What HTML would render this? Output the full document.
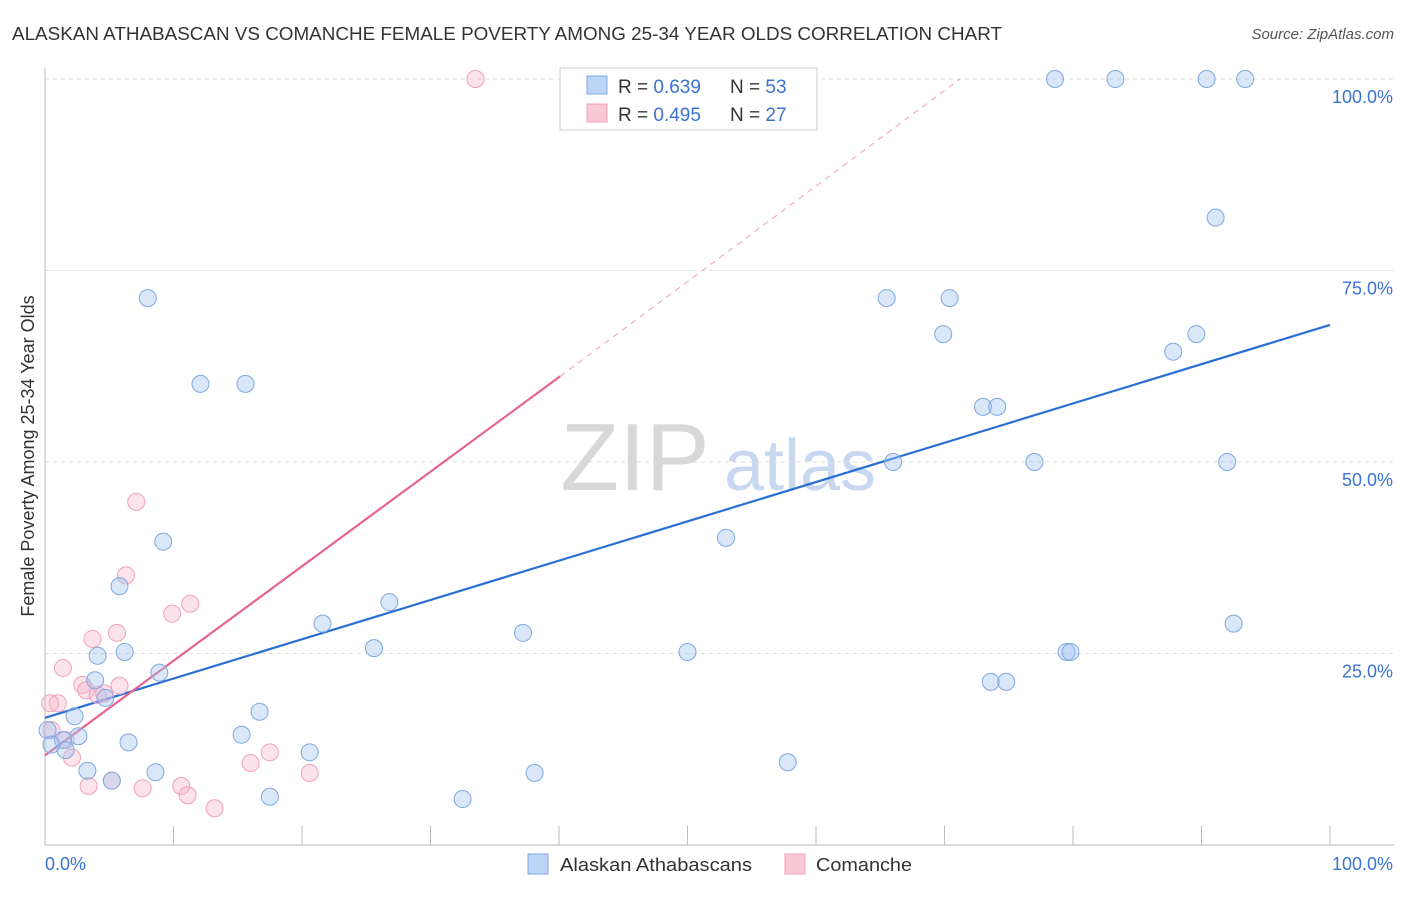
<!DOCTYPE html>
<html><head><meta charset="utf-8"><style>
body{margin:0;background:#fff;font-family:"Liberation Sans",sans-serif;}
svg text{font-family:"Liberation Sans",sans-serif;}
</style></head><body>
<svg id="chart" width="1406" height="892" xmlns="http://www.w3.org/2000/svg">
<text x="12" y="40" font-size="18" fill="#333" textLength="990" lengthAdjust="spacingAndGlyphs">ALASKAN ATHABASCAN VS COMANCHE FEMALE POVERTY AMONG 25-34 YEAR OLDS CORRELATION CHART</text>
<text x="1394" y="39" font-size="15" fill="#555" font-style="italic" text-anchor="end">Source: ZipAtlas.com</text>
<text x="0" y="0" transform="translate(34,456) rotate(-90)" font-size="18" fill="#333" text-anchor="middle">Female Poverty Among 25-34 Year Olds</text>
<g><text x="635" y="490" font-size="96" fill="#d8d8d8" font-family="Liberation Serif" text-anchor="middle">ZIP</text><text x="800" y="490" font-size="72" fill="#c8d8f0" text-anchor="middle">atlas</text></g>
<g id="grid"></g><g id="axes"></g><g id="trend"></g><g id="pts"></g>
<g>
<rect x="560" y="68" width="257" height="62" fill="#fff" stroke="#ccc"/>
<rect x="587" y="76" width="20" height="18" fill="#bcd4f5" stroke="#7fa8e0"/>
<text x="618" y="93" font-size="19" fill="#333">R = <tspan fill="#3b73d1">0.639</tspan></text>
<text x="730" y="93" font-size="19" fill="#333">N = <tspan fill="#3b73d1">53</tspan></text>
<rect x="587" y="104" width="20" height="18" fill="#f8c8d6" stroke="#f0a0bb"/>
<text x="618" y="121" font-size="19" fill="#333">R = <tspan fill="#3b73d1">0.495</tspan></text>
<text x="730" y="121" font-size="19" fill="#333">N = <tspan fill="#3b73d1">27</tspan></text>
</g>
<g>
<rect x="528" y="854" width="20" height="20" fill="#bcd4f5" stroke="#7fa8e0"/>
<text x="560" y="871" font-size="18" fill="#333" textLength="192" lengthAdjust="spacingAndGlyphs">Alaskan Athabascans</text>
<rect x="785" y="854" width="20" height="20" fill="#f8c8d6" stroke="#f0a0bb"/>
<text x="816" y="871" font-size="18" fill="#333" textLength="96" lengthAdjust="spacingAndGlyphs">Comanche</text>
</g>
</svg>
<script>
const blueX=[8.0,12.1,15.6,9.2,5.8,4.1,6.2,3.9,8.9,4.7,2.3,2.6,1.4,1.6,0.2,3.3,5.2,6.5,8.6,15.3,16.7,17.5,20.6,21.6,25.6,26.8,32.5,37.2,38.1,50.0,53.0,57.8,65.5,66.0,69.9,70.4,73.0,74.1,73.6,74.8,77.0,79.5,79.8,78.6,83.3,90.4,93.4,91.1,87.8,89.6,92.0,92.5,0.5];
const blueY=[71.4,60.2,60.2,39.6,33.8,24.7,25.2,21.5,22.5,19.2,16.8,14.2,13.7,12.4,15.0,9.7,8.4,13.4,9.5,14.4,17.4,6.3,12.1,28.9,25.7,31.7,6.0,27.7,9.4,25.2,40.1,10.8,71.4,50.0,66.7,71.4,57.2,57.2,21.3,21.3,50.0,25.2,25.2,100,100,100,100,81.9,64.4,66.7,50.0,28.9,13.1];
const pinkX=[33.5,7.1,6.3,11.3,9.9,5.6,3.7,1.4,0.4,1.0,2.9,3.2,5.8,4.1,4.6,1.6,2.1,0.5,3.4,5.2,7.6,10.6,11.1,13.2,16.0,17.5,20.6];
const pinkY=[100,44.8,35.2,31.5,30.2,27.7,26.9,23.1,18.5,18.5,20.9,20.2,20.8,19.6,19.8,13.7,11.4,15.0,7.7,8.4,7.4,7.7,6.5,4.8,10.7,12.1,9.4];
const yTicks=[25,50,75,100];
const yTickLabels=["25.0%","50.0%","75.0%","100.0%"];
const xTicks=[0,10,20,30,40,50,60,70,80,90,100];
const blueTrend=[[0,16.6],[100,67.9]];
const pinkTrend=[[0,11.7],[40.1,61.2]];
const pinkDash=[[40.1,61.2],[71.2,100]];
const NS="http://www.w3.org/2000/svg";
const sx=v=>45+v*12.85, sy=v=>845-v*7.66;
function mk(t,a,p){const e=document.createElementNS(NS,t);for(const k in a)e.setAttribute(k,a[k]);document.getElementById(p).appendChild(e);return e;}
yTicks.forEach((t,i)=>{
 const g=mk('line',{x1:45,x2:1394,y1:sy(t),y2:sy(t),stroke:'#ddd','stroke-dasharray':'4,4'},'grid');
 
 
 const l=mk('text',{x:1393,y:sy(t)+24,'font-size':18,fill:'#3b73d1','text-anchor':'end'},'axes');
 l.textContent=yTickLabels[i];
 
 
});
const ax=mk('line',{x1:45,x2:1394,y1:845,y2:845,stroke:'#bbb'},'axes');


const ay=mk('line',{x1:45,x2:45,y1:68,y2:845,stroke:'#bbb'},'axes');


xTicks.forEach(t=>{
 const k=mk('line',{x1:sx(t),x2:sx(t),y1:826,y2:845,stroke:'#bbb'},'axes');
 
 
});
const xl0=mk('text',{x:45,y:870,'font-size':18,fill:'#3b73d1'},'axes');xl0.textContent='0.0%';


const xl1=mk('text',{x:1393,y:870,'font-size':18,fill:'#3b73d1','text-anchor':'end'},'axes');xl1.textContent='100.0%';


pinkX.forEach((x,i)=>{
 const c=mk('circle',{cx:sx(x),cy:sy(pinkY[i]),r:8.5,fill:'rgba(245,175,198,0.35)',stroke:'#f0a0bb','stroke-width':1},'pts');
 
 
});
blueX.forEach((x,i)=>{
 const c=mk('circle',{cx:sx(x),cy:sy(blueY[i]),r:8.5,fill:'rgba(160,195,240,0.4)',stroke:'#7fa8e0','stroke-width':1},'pts');
 
 
});
const bt=mk('line',{x1:sx(blueTrend[0][0]),y1:sy(blueTrend[0][1]),x2:sx(blueTrend[1][0]),y2:sy(blueTrend[1][1]),stroke:'#2a6fd6','stroke-width':2.2},'trend');


const pt=mk('line',{x1:sx(pinkTrend[0][0]),y1:sy(pinkTrend[0][1]),x2:sx(pinkTrend[1][0]),y2:sy(pinkTrend[1][1]),stroke:'#e8638f','stroke-width':2.2},'trend');


const pd=mk('line',{x1:sx(pinkDash[0][0]),y1:sy(pinkDash[0][1]),x2:sx(pinkDash[1][0]),y2:sy(pinkDash[1][1]),stroke:'#f0a0bb','stroke-width':1,'stroke-dasharray':'6,5'},'trend');


</script>
</body></html>
